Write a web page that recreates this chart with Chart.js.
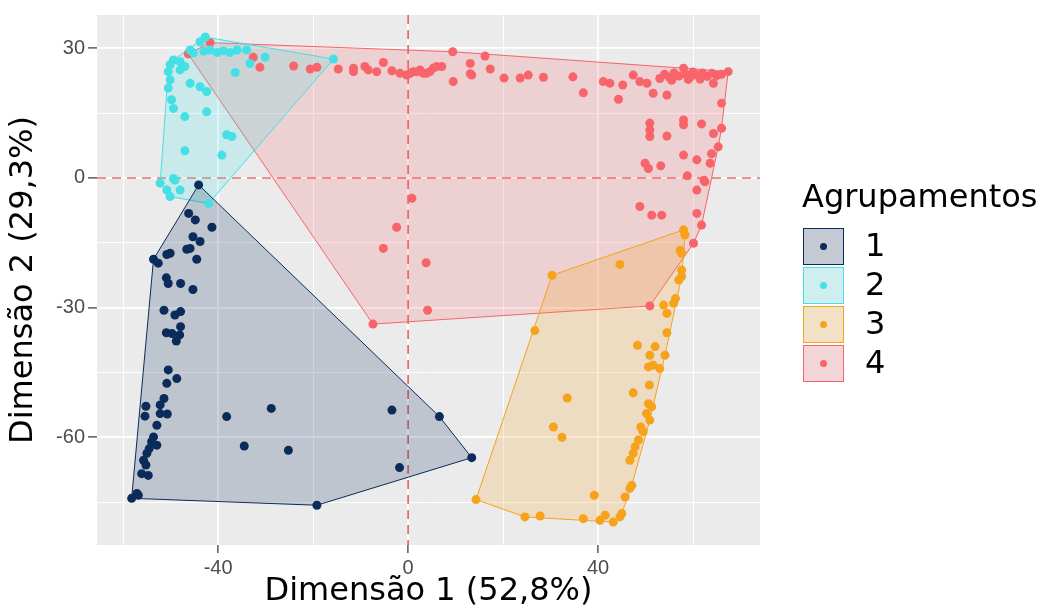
<!DOCTYPE html>
<html>
<head>
<meta charset="utf-8">
<script src="https://cdn.jsdelivr.net/npm/chart.js@4/dist/chart.umd.min.js"></script>
<style>
  html, body { margin: 0; padding: 0; background: #ffffff; }
  #wrap { width: 1044px; height: 615px; }
</style>
</head>
<body>
<div id="wrap"><canvas id="chart"></canvas></div>
<script>
    // Cluster data: [Dim 1, Dim 2]
    const groupNames = ["1", "2", "3", "4"];
    const groupColors = ["#0B2C5A", "#44E0E6", "#F7A21B", "#F7646A"];

    const cluster1 = [
        [-44.1, -1.6], [-46.2, -8.2], [-44.8, -9.7], [-41.3, -11.4], [-45.3, -13.6],
        [-43.8, -14.7], [-46.6, -16.5], [-45.9, -16.3], [-50.1, -17.4], [-50.8, -17.7],
        [-44.5, -18.8], [-53.6, -18.8], [-52.6, -19.7], [-50.9, -23.1], [-50.5, -24.4],
        [-47.9, -24.4], [-45.3, -25.8], [-51.4, -30.6], [-49.1, -31.7], [-47.9, -30.9],
        [-47.9, -34.4], [-50.9, -35.8], [-49.7, -36.0], [-48.1, -36.3], [-48.8, -37.7],
        [-50.5, -44.4], [-48.7, -46.4], [-50.8, -47.5], [-51.4, -51.0], [-52.2, -52.5],
        [-55.2, -52.8], [-52.2, -54.5], [-50.7, -54.6], [-55.4, -55.1], [-52.9, -57.2],
        [-53.6, -59.9], [-54.0, -61.0], [-52.9, -61.8], [-54.5, -62.6], [-55.0, -63.7],
        [-55.7, -65.3], [-55.2, -66.4], [-56.1, -68.4], [-54.7, -68.8], [-57.1, -73.0],
        [-58.2, -74.1], [-56.8, -73.4], [-38.2, -55.2], [-28.8, -53.3], [-34.5, -62.0],
        [-25.2, -63.0], [-19.2, -75.7], [-3.4, -53.7], [-1.8, -67.0], [6.6, -55.2],
        [13.4, -64.7],
    ];

    const cluster2 = [
        [-42.7, 32.6], [-43.8, 31.5], [-45.9, 29.6], [-45.2, 28.9], [-43.0, 29.3],
        [-41.7, 29.6], [-40.2, 29.0], [-38.9, 29.4], [-37.5, 29.0], [-36.0, 29.6],
        [-49.4, 27.3], [-50.1, 26.2], [-48.0, 26.9], [-47.0, 25.8], [-50.5, 24.6],
        [-50.1, 22.7], [-48.0, 25.0], [-50.5, 20.8], [-49.8, 18.1], [-49.4, 16.1],
        [-45.9, 21.9], [-43.8, 21.1], [-42.4, 20.0], [-47.0, 14.2], [-42.4, 15.3],
        [-38.2, 10.0], [-37.1, 9.6], [-47.0, 6.3], [-39.2, 5.3], [-34.0, 29.6],
        [-33.3, 26.5], [-30.1, 27.9], [-36.4, 24.4], [-15.7, 27.5], [-52.2, -1.2],
        [-49.1, -0.5], [-49.4, -0.1], [-50.1, -4.3], [-42.0, -5.9], [-48.0, -2.8],
        [-50.8, -2.8],
    ];

    const cluster3 = [
        [58.0, -12.0], [58.3, -13.2], [57.3, -16.7], [57.6, -17.4], [44.6, -20.0],
        [30.3, -22.5], [57.6, -21.3], [57.6, -22.8], [57.0, -23.6], [56.3, -27.9],
        [55.9, -29.0], [53.8, -29.4], [54.5, -31.3], [26.7, -35.3], [54.5, -35.8],
        [48.3, -38.7], [52.0, -39.0], [50.9, -41.0], [54.1, -41.0], [50.6, -43.7],
        [53.0, -44.1], [51.6, -43.3], [50.8, -47.9], [47.4, -49.7], [33.5, -50.9],
        [50.6, -52.2], [51.3, -52.9], [50.2, -54.5], [50.9, -56.0], [49.0, -57.6],
        [49.5, -58.7], [30.6, -57.6], [32.4, -60.0], [48.5, -60.6], [47.8, -62.2],
        [47.4, -63.7], [46.7, -65.3], [47.1, -71.1], [46.7, -71.8], [45.7, -73.8],
        [39.2, -73.4], [14.3, -74.4], [24.6, -78.4], [27.8, -78.2], [36.9, -78.8],
        [40.4, -79.2], [41.5, -78.0], [43.2, -79.6], [44.6, -78.4], [45.0, -77.6],
    ];

    const cluster4 = [
        [-41.7, 31.3], [-46.3, 28.7], [-32.6, 27.9], [-31.2, 25.6], [-24.1, 25.9],
        [-20.6, 25.2], [-19.2, 25.6], [-14.7, 25.2], [-11.5, 25.4], [-11.5, 24.6],
        [-9.1, 25.8], [-8.4, 25.0], [-6.6, 24.6], [-5.2, 26.7], [-3.4, 24.8],
        [-1.7, 24.2], [-0.3, 23.8], [1.1, 24.6], [2.5, 25.0], [3.9, 24.2],
        [5.3, 25.4], [6.0, 25.8], [0.4, 24.2], [1.8, 24.6], [3.2, 24.2],
        [4.6, 24.6], [7.1, 25.8], [9.4, 29.2], [9.5, 22.3], [13.1, 26.5],
        [13.1, 24.1], [13.4, 23.8], [16.2, 28.2], [17.3, 25.2], [20.2, 23.1],
        [23.6, 23.1], [25.3, 23.8], [28.5, 23.3], [34.7, 23.4], [36.9, 19.7],
        [41.1, 22.3], [42.5, 21.9], [44.3, 18.2], [45.2, 21.5], [47.4, 23.8],
        [48.8, 22.3], [50.3, 21.9], [51.6, 19.6], [54.5, 19.2], [53.0, 23.0],
        [54.0, 24.0], [55.0, 23.3], [56.0, 24.3], [57.0, 23.6], [58.0, 25.4],
        [58.5, 24.0], [59.5, 23.4], [60.0, 24.5], [61.0, 23.8], [62.0, 24.3],
        [63.0, 23.5], [64.0, 24.2], [65.0, 23.7], [66.0, 24.0], [55.5, 22.6],
        [59.0, 22.8], [61.5, 22.9], [64.3, 21.9], [67.4, 24.6], [66.0, 17.3],
        [50.9, 12.7], [50.9, 11.1], [50.9, 9.6], [58.0, 13.4], [58.0, 12.3],
        [61.8, 12.5], [54.5, 9.7], [64.3, 10.3], [66.0, 11.5], [65.3, 7.2],
        [58.0, 5.3], [60.8, 4.2], [63.9, 5.6], [63.6, 3.4], [49.9, 3.4],
        [50.6, 2.2], [53.2, 2.8], [58.8, 0.5], [62.3, -0.5], [60.8, -2.8],
        [62.5, -0.9], [48.8, -6.6], [51.3, -8.6], [53.4, -8.6], [60.8, -8.2],
        [61.8, -10.9], [60.1, -15.1], [0.8, -4.7], [-2.4, -11.4], [-5.2, -16.3],
        [3.8, -19.6], [4.1, -30.6], [-7.4, -33.8], [50.9, -29.6],
    ];

    const clusters = [cluster1, cluster2, cluster3, cluster4];

    // Axis ticks
    const xGrid = [-60, -40, -20, 0, 20, 40, 60];
    const xTickLabels = [-40, 0, 40];
    const yGrid = [-75, -60, -45, -30, -15, 0, 15, 30];
    const yTickLabels = [-60, -30, 0, 30];

    const xTitle = "Dimensão 1 (52,8%)";
    const yTitle = "Dimensão 2 (29,3%)";
    const legendTitle = "Agrupamentos";

    const alpha = (hex, a) => {
        const n = parseInt(hex.slice(1), 16);
        return `rgba(${(n >> 16) & 255}, ${(n >> 8) & 255}, ${n & 255}, ${a})`;
    };

    // convex hull (monotone chain)
    const convexHull = (pts) => {
        const p = pts.slice().sort((a, b) => a[0] - b[0] || a[1] - b[1]);
        const cross = (o, a, b) =>
            (a[0] - o[0]) * (b[1] - o[1]) - (a[1] - o[1]) * (b[0] - o[0]);
        const lower = [];
        const upper = [];
        for (const q of p) {
            while (lower.length >= 2 && cross(lower[lower.length - 2], lower[lower.length - 1], q) <= 0) lower.pop();
            lower.push(q);
        }
        for (let i = p.length - 1; i >= 0; i--) {
            const q = p[i];
            while (upper.length >= 2 && cross(upper[upper.length - 2], upper[upper.length - 1], q) <= 0) upper.pop();
            upper.push(q);
        }
        lower.pop();
        upper.pop();
        return lower.concat(upper);
    };

    const toXY = (arr) => arr.map(([x, y]) => ({ x, y }));

    const hullSets = clusters.map((pts, i) => {
        const h = convexHull(pts);
        return {
            type: "line",
            label: "hull " + groupNames[i],
            data: toXY(h.concat([h[0]])),
            borderColor: groupColors[i],
            borderWidth: 1,
            backgroundColor: alpha(groupColors[i], 0.2),
            fill: "shape",
            pointRadius: 0,
            tension: 0,
            order: 2,
        };
    });

    const pointSets = clusters.map((pts, i) => ({
        type: "scatter",
        label: groupNames[i],
        data: toXY(pts),
        backgroundColor: groupColors[i],
        borderWidth: 0,
        pointRadius: 4.5,
        order: 1,
    }));

    // Panel background
    const panelBg = {
        id: "panelBg",
        beforeDraw(chart) {
            const { ctx, chartArea: a } = chart;
            ctx.save();
            ctx.fillStyle = "#EBEBEB";
            ctx.fillRect(a.left, a.top, a.width, a.height);
            ctx.restore();
        },
    };

    // Dashed lines at zero
    const zeroLines = {
        id: "zeroLines",
        beforeDatasetsDraw(chart) {
            const { ctx, chartArea: a, scales } = chart;
            const x0 = scales.x.getPixelForValue(0);
            const y0 = scales.y.getPixelForValue(0);
            ctx.save();
            ctx.strokeStyle = "#D9292B";
            ctx.lineWidth = 1.2;
            ctx.setLineDash([9, 6]);
            ctx.beginPath();
            ctx.moveTo(x0, a.top);
            ctx.lineTo(x0, a.bottom);
            ctx.moveTo(a.left, y0);
            ctx.lineTo(a.right, y0);
            ctx.stroke();
            ctx.restore();
        },
    };

    // ggplot-style legend
    const groupLegend = {
        id: "groupLegend",
        afterDraw(chart) {
            const ctx = chart.ctx;
            const left = chart.chartArea.right + 43;
            ctx.save();
            ctx.fillStyle = "#000000";
            ctx.font = '32px "DejaVu Sans"';
            ctx.textBaseline = "alphabetic";
            ctx.fillText(legendTitle, left - 1, 207);
            groupNames.forEach((name, i) => {
                const top = 228 + i * 39;
                const w = 41;
                const h = 37;
                ctx.fillStyle = "#F2F2F2";
                ctx.fillRect(left, top, w, h);
                ctx.fillStyle = alpha(groupColors[i], 0.2);
                ctx.fillRect(left, top, w, h);
                ctx.strokeStyle = groupColors[i];
                ctx.lineWidth = 1;
                ctx.strokeRect(left + 0.5, top + 0.5, w - 1, h - 1);
                ctx.fillStyle = groupColors[i];
                ctx.beginPath();
                ctx.arc(left + w / 2, top + h / 2, 3.5, 0, Math.PI * 2);
                ctx.fill();
                ctx.fillStyle = "#000000";
                ctx.textBaseline = "middle";
                ctx.fillText(name, left + 62, top + h / 2 + 1);
            });
            ctx.restore();
        },
    };

    const tickFont = { family: "Liberation Sans", size: 20 };
    const titleFont = { family: "DejaVu Sans", size: 32 };

    new Chart(document.getElementById("chart"), {
        type: "scatter",
        data: { datasets: [...pointSets, ...hullSets] },
        options: {
            responsive: true,
            maintainAspectRatio: false,
            animation: false,
            devicePixelRatio: 1,
            layout: { padding: { top: 15, right: 284, bottom: 0, left: 0 } },
            plugins: {
                legend: { display: false },
                tooltip: { enabled: false },
            },
            scales: {
                x: {
                    type: "linear",
                    min: -65.5,
                    max: 74.1,
                    afterBuildTicks: (s) => {
                        s.ticks = xGrid.map((v) => ({ value: v }));
                    },
                    afterFit: (s) => {
                        s.height = 70;
                    },
                    ticks: {
                        autoSkip: false,
                        maxRotation: 0,
                        padding: 3,
                        color: "#4D4D4D",
                        font: tickFont,
                        callback: (v) => (xTickLabels.includes(v) ? String(v) : ""),
                    },
                    grid: {
                        color: "#FFFFFF",
                        lineWidth: (c) => (c.tick && xTickLabels.includes(c.tick.value) ? 1.8 : 0.9),
                        tickLength: 8,
                        tickWidth: 1.2,
                        tickColor: (c) => (c.tick && xTickLabels.includes(c.tick.value) ? "#333333" : "rgba(0,0,0,0)"),
                    },
                    border: { display: false },
                    title: {
                        display: true,
                        text: xTitle,
                        color: "#000000",
                        font: titleFont,
                        padding: { top: 0, bottom: 4 },
                    },
                },
                y: {
                    type: "linear",
                    min: -84.9,
                    max: 37.7,
                    afterBuildTicks: (s) => {
                        s.ticks = yGrid.map((v) => ({ value: v }));
                    },
                    afterFit: (s) => {
                        s.width = 97;
                    },
                    ticks: {
                        autoSkip: false,
                        padding: 3,
                        color: "#4D4D4D",
                        font: tickFont,
                        callback: (v) => (yTickLabels.includes(v) ? String(v) : ""),
                    },
                    grid: {
                        color: "#FFFFFF",
                        lineWidth: (c) => (c.tick && yTickLabels.includes(c.tick.value) ? 1.8 : 0.9),
                        tickLength: 9,
                        tickWidth: 1.2,
                        tickColor: (c) => (c.tick && yTickLabels.includes(c.tick.value) ? "#333333" : "rgba(0,0,0,0)"),
                    },
                    border: { display: false },
                    title: {
                        display: true,
                        text: yTitle,
                        color: "#000000",
                        font: titleFont,
                        padding: { top: 4, bottom: 0 },
                    },
                },
            },
        },
        plugins: [panelBg, zeroLines, groupLegend],
    });
</script>
</body>
</html>
